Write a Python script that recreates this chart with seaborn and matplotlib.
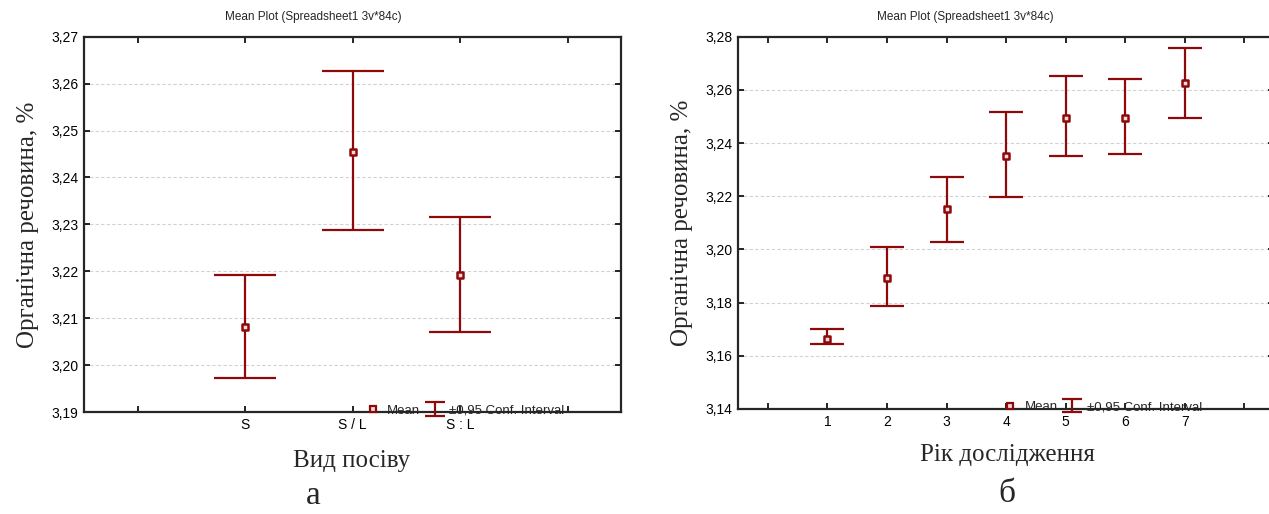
import matplotlib

matplotlib.use("Agg")
import matplotlib.pyplot as plt
import numpy as np
import pandas as pd
import seaborn as sns
from matplotlib.collections import LineCollection
from matplotlib.container import ErrorbarContainer
from matplotlib.lines import Line2D
from matplotlib.ticker import FuncFormatter

# ----------------------------
# Data
# ----------------------------
sowing_types = ["S", "S / L", "S : L"]
sowing_mean = [3.2081, 3.2455, 3.2193]
sowing_low = [3.1973, 3.2289, 3.2071]
sowing_high = [3.2191, 3.2627, 3.2315]

years = [1, 2, 3, 4, 5, 6, 7]
year_mean = [3.1665, 3.1892, 3.2151, 3.2351, 3.2495, 3.2495, 3.2625]
year_low = [3.1643, 3.1786, 3.2029, 3.2199, 3.2351, 3.2358, 3.2495]
year_high = [3.1701, 3.2010, 3.2271, 3.2517, 3.2651, 3.2642, 3.2757]

TITLE = "Mean Plot (Spreadsheet1 3v*84c)"
YLABEL = "Органічна речовина, %"
RED = "#8e0a0a"
FACE = "#f5dada"

sns.set_style("ticks")
plt.rcParams["font.family"] = ["Liberation Sans", "DejaVu Sans"]

fig = plt.figure(figsize=(12.69, 5.14), dpi=100)
ax_a = fig.add_axes([0.0662, 0.1984, 0.4235, 0.7302])
ax_b = fig.add_axes([0.5816, 0.2043, 0.4225, 0.7243])

comma = FuncFormatter(lambda v, _: f"{v:.2f}".replace(".", ","))


def mean_plot(ax, x, mean, low, high, capsize):
    df = pd.DataFrame({"x": x, "mean": mean, "low": low, "high": high})
    yerr = [df["mean"] - df["low"], df["high"] - df["mean"]]
    ax.errorbar(
        df["x"], df["mean"], yerr=yerr, fmt="none", ecolor=RED,
        elinewidth=1.6, capsize=capsize, capthick=1.6, zorder=3,
    )
    sns.scatterplot(
        data=df, x="x", y="mean", ax=ax, marker="s", s=16,
        color=FACE, edgecolor=RED, linewidth=1.8, zorder=4,
        legend=False,
    )


def style_axes(ax, yticks, xticks, xlabels, leg_x):
    ax.set_yticks(yticks)
    ax.set_ylim(yticks[0], yticks[-1])
    ax.yaxis.set_major_formatter(comma)
    ax.set_xticks(xticks)
    ax.set_xticklabels(xlabels)
    ax.set_xlim(xticks[0] - 0.5, xticks[-1] + 0.5)
    ax.grid(axis="y", color="#d2d2d2", linestyle=(0, (3, 2)), linewidth=0.8)
    ax.grid(axis="x", visible=False)
    ax.tick_params(direction="in", length=4, width=1.2, top=True,
                   right=True, labelsize=10, pad=4, colors="black")
    for s in ax.spines.values():
        s.set_linewidth(1.6)
        s.set_visible(True)
    ax.set_xlabel("")
    ax.set_ylabel(YLABEL, fontfamily="Liberation Serif", fontsize=18,
                  labelpad=9)

    # legend proxies: square mean marker and a small capped CI bar
    mean_handle = Line2D([], [], marker="s", ls="none", markersize=4.5,
                         markerfacecolor=FACE, markeredgecolor=RED,
                         markeredgewidth=1.6)
    cap = Line2D([], [], ls="none", marker="_", markersize=15,
                 markeredgewidth=1.6, color=RED)
    bar = LineCollection([], colors=RED, linewidths=1.6)
    ci_handle = ErrorbarContainer((None, (cap,), (bar,)), has_yerr=True)
    ax.legend([mean_handle, ci_handle], ["Mean", "±0,95 Conf. Interval"],
              ncol=2, frameon=False, loc="lower left",
              bbox_to_anchor=(leg_x, -0.012), borderpad=0,
              borderaxespad=0, handlelength=1.4, handletextpad=0.4,
              columnspacing=0.4, fontsize=9.5)


# ----------------------------
# Panel a
# ----------------------------
pos_a = np.arange(1, len(sowing_types) + 1)
mean_plot(ax_a, pos_a, sowing_mean, sowing_low, sowing_high, 22)
style_axes(ax_a, np.round(np.arange(3.19, 3.2701, 0.01), 2),
           np.arange(0, len(sowing_types) + 2),
           [""] + sowing_types + [""], 0.52)

# ----------------------------
# Panel b
# ----------------------------
mean_plot(ax_b, years, year_mean, year_low, year_high, 12.5)
style_axes(ax_b, np.round(np.arange(3.14, 3.2801, 0.02), 2),
           np.arange(0, len(years) + 2),
           [""] + [str(y) for y in years] + [""], 0.49)

# ----------------------------
# Figure texts
# ----------------------------
fig.text(313 / 1269, 1 - 17 / 514, TITLE, ha="center", va="center",
         fontsize=8.5)
fig.text(965 / 1269, 1 - 17 / 514, TITLE, ha="center", va="center",
         fontsize=8.5)
fig.text(352 / 1269, 1 - 461 / 514, "Вид посіву", ha="center",
         va="center", fontfamily="Liberation Serif", fontsize=18)
fig.text(1007 / 1269, 1 - 455 / 514, "Рік дослідження", ha="center",
         va="center", fontfamily="Liberation Serif", fontsize=18)
fig.text(313 / 1269, 1 - 496 / 514, "а", ha="center", va="center",
         fontfamily="Liberation Serif", fontsize=24)
fig.text(1007 / 1269, 1 - 494 / 514, "б", ha="center", va="center",
         fontfamily="Liberation Serif", fontsize=24)

fig.savefig("out.png", dpi=100)
